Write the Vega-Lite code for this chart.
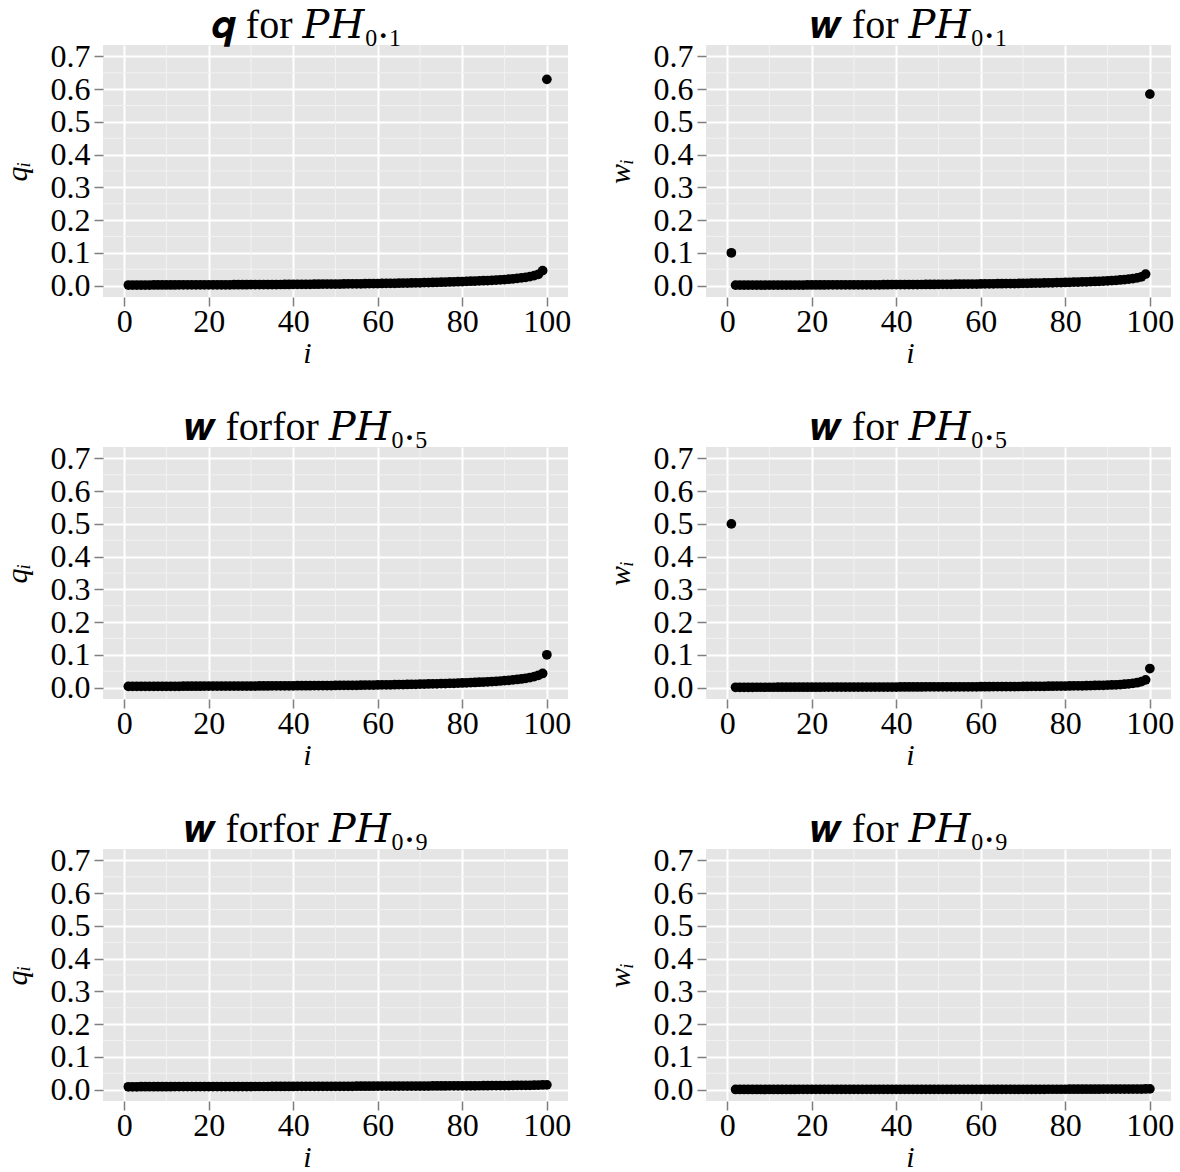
{
  "$schema": "https://vega.github.io/schema/vega-lite/v6.json",
  "background": "white",
  "padding": {"left": 2, "top": 6, "right": 0, "bottom": 0},
  "columns": 2,
  "spacing": {"row": 150, "column": 138},
  "bounds": "flush",
  "concat": [
    {
      "width": 465, "height": 252,
      "title": {"text": "𝒒 for 𝑃𝐻₀.₁"},
      "layer": [
        {"data": {"name": "mx"}, "mark": {"type": "rule", "color": "#F2F2F2", "strokeWidth": 1}, "encoding": {"x": {"field": "i", "type": "quantitative", "scale": {"domain": [-5, 105]}, "axis": {"values": [0, 20, 40, 60, 80, 100], "title": "i"}}}},
        {"data": {"name": "my"}, "mark": {"type": "rule", "color": "#F2F2F2", "strokeWidth": 1}, "encoding": {"y": {"field": "v", "type": "quantitative", "scale": {"domain": [-0.035, 0.735]}, "axis": {"values": [0, 0.1, 0.2, 0.3, 0.4, 0.5, 0.6, 0.7], "format": ".1f", "title": "qᵢ"}}}},
        {"data": {"name": "q01"}, "mark": {"type": "circle", "size": 95, "color": "#000000", "opacity": 1},
         "encoding": {
           "x": {"field": "i", "type": "quantitative", "scale": {"domain": [-5, 105]}, "axis": {"values": [0, 20, 40, 60, 80, 100], "title": "i"}},
           "y": {"field": "v", "type": "quantitative", "scale": {"domain": [-0.035, 0.735]}, "axis": {"values": [0, 0.1, 0.2, 0.3, 0.4, 0.5, 0.6, 0.7], "format": ".1f", "title": "qᵢ"}}}}
      ]
    },
    {
      "width": 465, "height": 252,
      "title": {"text": "𝒘 for 𝑃𝐻₀.₁"},
      "layer": [
        {"data": {"name": "mx"}, "mark": {"type": "rule", "color": "#F2F2F2", "strokeWidth": 1}, "encoding": {"x": {"field": "i", "type": "quantitative", "scale": {"domain": [-5, 105]}, "axis": {"values": [0, 20, 40, 60, 80, 100], "title": "i"}}}},
        {"data": {"name": "my"}, "mark": {"type": "rule", "color": "#F2F2F2", "strokeWidth": 1}, "encoding": {"y": {"field": "v", "type": "quantitative", "scale": {"domain": [-0.035, 0.735]}, "axis": {"values": [0, 0.1, 0.2, 0.3, 0.4, 0.5, 0.6, 0.7], "format": ".1f", "title": "wᵢ"}}}},
        {"data": {"name": "w01"}, "mark": {"type": "circle", "size": 95, "color": "#000000", "opacity": 1},
         "encoding": {
           "x": {"field": "i", "type": "quantitative", "scale": {"domain": [-5, 105]}, "axis": {"values": [0, 20, 40, 60, 80, 100], "title": "i"}},
           "y": {"field": "v", "type": "quantitative", "scale": {"domain": [-0.035, 0.735]}, "axis": {"values": [0, 0.1, 0.2, 0.3, 0.4, 0.5, 0.6, 0.7], "format": ".1f", "title": "wᵢ"}}}}
      ]
    },
    {
      "width": 465, "height": 252,
      "title": {"text": "𝒘 forfor 𝑃𝐻₀.₅"},
      "layer": [
        {"data": {"name": "mx"}, "mark": {"type": "rule", "color": "#F2F2F2", "strokeWidth": 1}, "encoding": {"x": {"field": "i", "type": "quantitative", "scale": {"domain": [-5, 105]}, "axis": {"values": [0, 20, 40, 60, 80, 100], "title": "i"}}}},
        {"data": {"name": "my"}, "mark": {"type": "rule", "color": "#F2F2F2", "strokeWidth": 1}, "encoding": {"y": {"field": "v", "type": "quantitative", "scale": {"domain": [-0.035, 0.735]}, "axis": {"values": [0, 0.1, 0.2, 0.3, 0.4, 0.5, 0.6, 0.7], "format": ".1f", "title": "qᵢ"}}}},
        {"data": {"name": "q05"}, "mark": {"type": "circle", "size": 95, "color": "#000000", "opacity": 1},
         "encoding": {
           "x": {"field": "i", "type": "quantitative", "scale": {"domain": [-5, 105]}, "axis": {"values": [0, 20, 40, 60, 80, 100], "title": "i"}},
           "y": {"field": "v", "type": "quantitative", "scale": {"domain": [-0.035, 0.735]}, "axis": {"values": [0, 0.1, 0.2, 0.3, 0.4, 0.5, 0.6, 0.7], "format": ".1f", "title": "qᵢ"}}}}
      ]
    },
    {
      "width": 465, "height": 252,
      "title": {"text": "𝒘 for 𝑃𝐻₀.₅"},
      "layer": [
        {"data": {"name": "mx"}, "mark": {"type": "rule", "color": "#F2F2F2", "strokeWidth": 1}, "encoding": {"x": {"field": "i", "type": "quantitative", "scale": {"domain": [-5, 105]}, "axis": {"values": [0, 20, 40, 60, 80, 100], "title": "i"}}}},
        {"data": {"name": "my"}, "mark": {"type": "rule", "color": "#F2F2F2", "strokeWidth": 1}, "encoding": {"y": {"field": "v", "type": "quantitative", "scale": {"domain": [-0.035, 0.735]}, "axis": {"values": [0, 0.1, 0.2, 0.3, 0.4, 0.5, 0.6, 0.7], "format": ".1f", "title": "wᵢ"}}}},
        {"data": {"name": "w05"}, "mark": {"type": "circle", "size": 95, "color": "#000000", "opacity": 1},
         "encoding": {
           "x": {"field": "i", "type": "quantitative", "scale": {"domain": [-5, 105]}, "axis": {"values": [0, 20, 40, 60, 80, 100], "title": "i"}},
           "y": {"field": "v", "type": "quantitative", "scale": {"domain": [-0.035, 0.735]}, "axis": {"values": [0, 0.1, 0.2, 0.3, 0.4, 0.5, 0.6, 0.7], "format": ".1f", "title": "wᵢ"}}}}
      ]
    },
    {
      "width": 465, "height": 252,
      "title": {"text": "𝒘 forfor 𝑃𝐻₀.₉"},
      "layer": [
        {"data": {"name": "mx"}, "mark": {"type": "rule", "color": "#F2F2F2", "strokeWidth": 1}, "encoding": {"x": {"field": "i", "type": "quantitative", "scale": {"domain": [-5, 105]}, "axis": {"values": [0, 20, 40, 60, 80, 100], "title": "i"}}}},
        {"data": {"name": "my"}, "mark": {"type": "rule", "color": "#F2F2F2", "strokeWidth": 1}, "encoding": {"y": {"field": "v", "type": "quantitative", "scale": {"domain": [-0.035, 0.735]}, "axis": {"values": [0, 0.1, 0.2, 0.3, 0.4, 0.5, 0.6, 0.7], "format": ".1f", "title": "qᵢ"}}}},
        {"data": {"name": "q09"}, "mark": {"type": "circle", "size": 95, "color": "#000000", "opacity": 1},
         "encoding": {
           "x": {"field": "i", "type": "quantitative", "scale": {"domain": [-5, 105]}, "axis": {"values": [0, 20, 40, 60, 80, 100], "title": "i"}},
           "y": {"field": "v", "type": "quantitative", "scale": {"domain": [-0.035, 0.735]}, "axis": {"values": [0, 0.1, 0.2, 0.3, 0.4, 0.5, 0.6, 0.7], "format": ".1f", "title": "qᵢ"}}}}
      ]
    },
    {
      "width": 465, "height": 252,
      "title": {"text": "𝒘 for 𝑃𝐻₀.₉"},
      "layer": [
        {"data": {"name": "mx"}, "mark": {"type": "rule", "color": "#F2F2F2", "strokeWidth": 1}, "encoding": {"x": {"field": "i", "type": "quantitative", "scale": {"domain": [-5, 105]}, "axis": {"values": [0, 20, 40, 60, 80, 100], "title": "i"}}}},
        {"data": {"name": "my"}, "mark": {"type": "rule", "color": "#F2F2F2", "strokeWidth": 1}, "encoding": {"y": {"field": "v", "type": "quantitative", "scale": {"domain": [-0.035, 0.735]}, "axis": {"values": [0, 0.1, 0.2, 0.3, 0.4, 0.5, 0.6, 0.7], "format": ".1f", "title": "wᵢ"}}}},
        {"data": {"name": "w09"}, "mark": {"type": "circle", "size": 95, "color": "#000000", "opacity": 1},
         "encoding": {
           "x": {"field": "i", "type": "quantitative", "scale": {"domain": [-5, 105]}, "axis": {"values": [0, 20, 40, 60, 80, 100], "title": "i"}},
           "y": {"field": "v", "type": "quantitative", "scale": {"domain": [-0.035, 0.735]}, "axis": {"values": [0, 0.1, 0.2, 0.3, 0.4, 0.5, 0.6, 0.7], "format": ".1f", "title": "wᵢ"}}}}
      ]
    }
  ],
  "datasets": {
    "mx": [{"i": 10}, {"i": 30}, {"i": 50}, {"i": 70}, {"i": 90}],
    "my": [{"v": 0.05}, {"v": 0.15}, {"v": 0.25}, {"v": 0.35}, {"v": 0.45}, {"v": 0.55}, {"v": 0.65}],
    "q01": [
      {"i":1,"v":0.0015},{"i":2,"v":0.0015},{"i":3,"v":0.0015},{"i":4,"v":0.0016},{"i":5,"v":0.0016},{"i":6,"v":0.0016},{"i":7,"v":0.0017},{"i":8,"v":0.0017},{"i":9,"v":0.0017},{"i":10,"v":0.0018},
      {"i":11,"v":0.0018},{"i":12,"v":0.0018},{"i":13,"v":0.0019},{"i":14,"v":0.0019},{"i":15,"v":0.002},{"i":16,"v":0.002},{"i":17,"v":0.002},{"i":18,"v":0.0021},{"i":19,"v":0.0021},{"i":20,"v":0.0022},
      {"i":21,"v":0.0022},{"i":22,"v":0.0023},{"i":23,"v":0.0023},{"i":24,"v":0.0024},{"i":25,"v":0.0024},{"i":26,"v":0.0025},{"i":27,"v":0.0025},{"i":28,"v":0.0026},{"i":29,"v":0.0026},{"i":30,"v":0.0027},
      {"i":31,"v":0.0028},{"i":32,"v":0.0028},{"i":33,"v":0.0029},{"i":34,"v":0.003},{"i":35,"v":0.003},{"i":36,"v":0.0031},{"i":37,"v":0.0032},{"i":38,"v":0.0033},{"i":39,"v":0.0034},{"i":40,"v":0.0035},
      {"i":41,"v":0.0036},{"i":42,"v":0.0037},{"i":43,"v":0.0038},{"i":44,"v":0.0039},{"i":45,"v":0.004},{"i":46,"v":0.0041},{"i":47,"v":0.0042},{"i":48,"v":0.0043},{"i":49,"v":0.0044},{"i":50,"v":0.0046},
      {"i":51,"v":0.0047},{"i":52,"v":0.0048},{"i":53,"v":0.005},{"i":54,"v":0.0051},{"i":55,"v":0.0053},{"i":56,"v":0.0054},{"i":57,"v":0.0056},{"i":58,"v":0.0058},{"i":59,"v":0.006},{"i":60,"v":0.0062},
      {"i":61,"v":0.0064},{"i":62,"v":0.0066},{"i":63,"v":0.0068},{"i":64,"v":0.007},{"i":65,"v":0.0072},{"i":66,"v":0.0074},{"i":67,"v":0.0077},{"i":68,"v":0.0079},{"i":69,"v":0.0082},{"i":70,"v":0.0085},
      {"i":71,"v":0.0088},{"i":72,"v":0.0091},{"i":73,"v":0.0094},{"i":74,"v":0.0097},{"i":75,"v":0.0101},{"i":76,"v":0.0105},{"i":77,"v":0.0109},{"i":78,"v":0.0113},{"i":79,"v":0.0117},{"i":80,"v":0.0122},
      {"i":81,"v":0.0127},{"i":82,"v":0.0132},{"i":83,"v":0.0137},{"i":84,"v":0.0142},{"i":85,"v":0.0148},{"i":86,"v":0.0154},{"i":87,"v":0.016},{"i":88,"v":0.0167},{"i":89,"v":0.0175},{"i":90,"v":0.0184},
      {"i":91,"v":0.0194},{"i":92,"v":0.0205},{"i":93,"v":0.0218},{"i":94,"v":0.0233},{"i":95,"v":0.0251},{"i":96,"v":0.0273},{"i":97,"v":0.0302},{"i":98,"v":0.0345},{"i":99,"v":0.0455},{"i":100,"v":0.63}
    ],
    "w01": [
      {"i":1,"v":0.1},{"i":2,"v":0.0012},{"i":3,"v":0.0012},{"i":4,"v":0.0012},{"i":5,"v":0.0012},{"i":6,"v":0.0013},{"i":7,"v":0.0013},{"i":8,"v":0.0013},{"i":9,"v":0.0013},{"i":10,"v":0.0014},
      {"i":11,"v":0.0014},{"i":12,"v":0.0014},{"i":13,"v":0.0015},{"i":14,"v":0.0015},{"i":15,"v":0.0016},{"i":16,"v":0.0016},{"i":17,"v":0.0016},{"i":18,"v":0.0016},{"i":19,"v":0.0017},{"i":20,"v":0.0017},
      {"i":21,"v":0.0017},{"i":22,"v":0.0018},{"i":23,"v":0.0018},{"i":24,"v":0.0019},{"i":25,"v":0.0019},{"i":26,"v":0.002},{"i":27,"v":0.002},{"i":28,"v":0.002},{"i":29,"v":0.002},{"i":30,"v":0.0021},
      {"i":31,"v":0.0022},{"i":32,"v":0.0022},{"i":33,"v":0.0023},{"i":34,"v":0.0023},{"i":35,"v":0.0023},{"i":36,"v":0.0024},{"i":37,"v":0.0025},{"i":38,"v":0.0026},{"i":39,"v":0.0027},{"i":40,"v":0.0027},
      {"i":41,"v":0.0028},{"i":42,"v":0.0029},{"i":43,"v":0.003},{"i":44,"v":0.003},{"i":45,"v":0.0031},{"i":46,"v":0.0032},{"i":47,"v":0.0033},{"i":48,"v":0.0034},{"i":49,"v":0.0034},{"i":50,"v":0.0036},
      {"i":51,"v":0.0037},{"i":52,"v":0.0037},{"i":53,"v":0.0039},{"i":54,"v":0.004},{"i":55,"v":0.0041},{"i":56,"v":0.0042},{"i":57,"v":0.0044},{"i":58,"v":0.0045},{"i":59,"v":0.0047},{"i":60,"v":0.0048},
      {"i":61,"v":0.005},{"i":62,"v":0.0051},{"i":63,"v":0.0053},{"i":64,"v":0.0055},{"i":65,"v":0.0056},{"i":66,"v":0.0058},{"i":67,"v":0.006},{"i":68,"v":0.0062},{"i":69,"v":0.0064},{"i":70,"v":0.0066},
      {"i":71,"v":0.0069},{"i":72,"v":0.0071},{"i":73,"v":0.0073},{"i":74,"v":0.0076},{"i":75,"v":0.0079},{"i":76,"v":0.0082},{"i":77,"v":0.0085},{"i":78,"v":0.0088},{"i":79,"v":0.0091},{"i":80,"v":0.0095},
      {"i":81,"v":0.0099},{"i":82,"v":0.0103},{"i":83,"v":0.0107},{"i":84,"v":0.0111},{"i":85,"v":0.0115},{"i":86,"v":0.012},{"i":87,"v":0.0125},{"i":88,"v":0.013},{"i":89,"v":0.0136},{"i":90,"v":0.0143},
      {"i":91,"v":0.0151},{"i":92,"v":0.016},{"i":93,"v":0.017},{"i":94,"v":0.0182},{"i":95,"v":0.0196},{"i":96,"v":0.0213},{"i":97,"v":0.0236},{"i":98,"v":0.0268},{"i":99,"v":0.035},{"i":100,"v":0.585}
    ],
    "q05": [
      {"i":1,"v":0.0035},{"i":2,"v":0.0035},{"i":3,"v":0.0036},{"i":4,"v":0.0036},{"i":5,"v":0.0036},{"i":6,"v":0.0037},{"i":7,"v":0.0037},{"i":8,"v":0.0037},{"i":9,"v":0.0038},{"i":10,"v":0.0038},
      {"i":11,"v":0.0038},{"i":12,"v":0.0039},{"i":13,"v":0.0039},{"i":14,"v":0.004},{"i":15,"v":0.004},{"i":16,"v":0.004},{"i":17,"v":0.0041},{"i":18,"v":0.0041},{"i":19,"v":0.0042},{"i":20,"v":0.0042},
      {"i":21,"v":0.0042},{"i":22,"v":0.0043},{"i":23,"v":0.0043},{"i":24,"v":0.0044},{"i":25,"v":0.0044},{"i":26,"v":0.0045},{"i":27,"v":0.0045},{"i":28,"v":0.0046},{"i":29,"v":0.0046},{"i":30,"v":0.0047},
      {"i":31,"v":0.0047},{"i":32,"v":0.0048},{"i":33,"v":0.0049},{"i":34,"v":0.0049},{"i":35,"v":0.005},{"i":36,"v":0.0051},{"i":37,"v":0.0051},{"i":38,"v":0.0052},{"i":39,"v":0.0053},{"i":40,"v":0.0054},
      {"i":41,"v":0.0055},{"i":42,"v":0.0055},{"i":43,"v":0.0056},{"i":44,"v":0.0057},{"i":45,"v":0.0058},{"i":46,"v":0.0059},{"i":47,"v":0.006},{"i":48,"v":0.0061},{"i":49,"v":0.0062},{"i":50,"v":0.0063},
      {"i":51,"v":0.0065},{"i":52,"v":0.0066},{"i":53,"v":0.0067},{"i":54,"v":0.0069},{"i":55,"v":0.007},{"i":56,"v":0.0072},{"i":57,"v":0.0073},{"i":58,"v":0.0075},{"i":59,"v":0.0077},{"i":60,"v":0.0079},
      {"i":61,"v":0.0081},{"i":62,"v":0.0083},{"i":63,"v":0.0085},{"i":64,"v":0.0087},{"i":65,"v":0.0089},{"i":66,"v":0.0092},{"i":67,"v":0.0094},{"i":68,"v":0.0097},{"i":69,"v":0.01},{"i":70,"v":0.0103},
      {"i":71,"v":0.0106},{"i":72,"v":0.0109},{"i":73,"v":0.0112},{"i":74,"v":0.0115},{"i":75,"v":0.0119},{"i":76,"v":0.0123},{"i":77,"v":0.0127},{"i":78,"v":0.0131},{"i":79,"v":0.0135},{"i":80,"v":0.014},
      {"i":81,"v":0.0145},{"i":82,"v":0.015},{"i":83,"v":0.0156},{"i":84,"v":0.0162},{"i":85,"v":0.0168},{"i":86,"v":0.0175},{"i":87,"v":0.0183},{"i":88,"v":0.0191},{"i":89,"v":0.02},{"i":90,"v":0.021},
      {"i":91,"v":0.0221},{"i":92,"v":0.0233},{"i":93,"v":0.0247},{"i":94,"v":0.0263},{"i":95,"v":0.0282},{"i":96,"v":0.0305},{"i":97,"v":0.0335},{"i":98,"v":0.0375},{"i":99,"v":0.043},{"i":100,"v":0.1}
    ],
    "w05": [
      {"i":1,"v":0.5},{"i":2,"v":0.0008},{"i":3,"v":0.0008},{"i":4,"v":0.0008},{"i":5,"v":0.0008},{"i":6,"v":0.0008},{"i":7,"v":0.0009},{"i":8,"v":0.0009},{"i":9,"v":0.0009},{"i":10,"v":0.0009},
      {"i":11,"v":0.0009},{"i":12,"v":0.001},{"i":13,"v":0.001},{"i":14,"v":0.001},{"i":15,"v":0.001},{"i":16,"v":0.001},{"i":17,"v":0.001},{"i":18,"v":0.0011},{"i":19,"v":0.0011},{"i":20,"v":0.0011},
      {"i":21,"v":0.0011},{"i":22,"v":0.0011},{"i":23,"v":0.0012},{"i":24,"v":0.0012},{"i":25,"v":0.0012},{"i":26,"v":0.0012},{"i":27,"v":0.0013},{"i":28,"v":0.0013},{"i":29,"v":0.0013},{"i":30,"v":0.0013},
      {"i":31,"v":0.0014},{"i":32,"v":0.0014},{"i":33,"v":0.0014},{"i":34,"v":0.0014},{"i":35,"v":0.0015},{"i":36,"v":0.0015},{"i":37,"v":0.0015},{"i":38,"v":0.0016},{"i":39,"v":0.0016},{"i":40,"v":0.0016},
      {"i":41,"v":0.0017},{"i":42,"v":0.0017},{"i":43,"v":0.0017},{"i":44,"v":0.0018},{"i":45,"v":0.0018},{"i":46,"v":0.0018},{"i":47,"v":0.0019},{"i":48,"v":0.0019},{"i":49,"v":0.002},{"i":50,"v":0.002},
      {"i":51,"v":0.002},{"i":52,"v":0.0021},{"i":53,"v":0.0021},{"i":54,"v":0.0022},{"i":55,"v":0.0022},{"i":56,"v":0.0023},{"i":57,"v":0.0023},{"i":58,"v":0.0024},{"i":59,"v":0.0024},{"i":60,"v":0.0025},
      {"i":61,"v":0.0026},{"i":62,"v":0.0026},{"i":63,"v":0.0027},{"i":64,"v":0.0028},{"i":65,"v":0.0028},{"i":66,"v":0.0029},{"i":67,"v":0.003},{"i":68,"v":0.0031},{"i":69,"v":0.0032},{"i":70,"v":0.0033},
      {"i":71,"v":0.0034},{"i":72,"v":0.0035},{"i":73,"v":0.0036},{"i":74,"v":0.0037},{"i":75,"v":0.0038},{"i":76,"v":0.004},{"i":77,"v":0.0041},{"i":78,"v":0.0043},{"i":79,"v":0.0044},{"i":80,"v":0.0046},
      {"i":81,"v":0.0048},{"i":82,"v":0.005},{"i":83,"v":0.0052},{"i":84,"v":0.0054},{"i":85,"v":0.0057},{"i":86,"v":0.006},{"i":87,"v":0.0063},{"i":88,"v":0.0066},{"i":89,"v":0.007},{"i":90,"v":0.0074},
      {"i":91,"v":0.0079},{"i":92,"v":0.0085},{"i":93,"v":0.0092},{"i":94,"v":0.0101},{"i":95,"v":0.0112},{"i":96,"v":0.0127},{"i":97,"v":0.0148},{"i":98,"v":0.018},{"i":99,"v":0.0235},{"i":100,"v":0.058}
    ],
    "q09": [
      {"i":1,"v":0.0085},{"i":2,"v":0.0085},{"i":3,"v":0.0085},{"i":4,"v":0.0086},{"i":5,"v":0.0086},{"i":6,"v":0.0086},{"i":7,"v":0.0086},{"i":8,"v":0.0087},{"i":9,"v":0.0087},{"i":10,"v":0.0087},
      {"i":11,"v":0.0087},{"i":12,"v":0.0088},{"i":13,"v":0.0088},{"i":14,"v":0.0088},{"i":15,"v":0.0088},{"i":16,"v":0.0089},{"i":17,"v":0.0089},{"i":18,"v":0.0089},{"i":19,"v":0.0089},{"i":20,"v":0.009},
      {"i":21,"v":0.009},{"i":22,"v":0.009},{"i":23,"v":0.009},{"i":24,"v":0.0091},{"i":25,"v":0.0091},{"i":26,"v":0.0091},{"i":27,"v":0.0091},{"i":28,"v":0.0092},{"i":29,"v":0.0092},{"i":30,"v":0.0092},
      {"i":31,"v":0.0093},{"i":32,"v":0.0093},{"i":33,"v":0.0093},{"i":34,"v":0.0093},{"i":35,"v":0.0094},{"i":36,"v":0.0094},{"i":37,"v":0.0094},{"i":38,"v":0.0095},{"i":39,"v":0.0095},{"i":40,"v":0.0095},
      {"i":41,"v":0.0096},{"i":42,"v":0.0096},{"i":43,"v":0.0096},{"i":44,"v":0.0097},{"i":45,"v":0.0097},{"i":46,"v":0.0097},{"i":47,"v":0.0098},{"i":48,"v":0.0098},{"i":49,"v":0.0098},{"i":50,"v":0.0099},
      {"i":51,"v":0.0099},{"i":52,"v":0.0099},{"i":53,"v":0.01},{"i":54,"v":0.01},{"i":55,"v":0.0101},{"i":56,"v":0.0101},{"i":57,"v":0.0101},{"i":58,"v":0.0102},{"i":59,"v":0.0102},{"i":60,"v":0.0103},
      {"i":61,"v":0.0103},{"i":62,"v":0.0103},{"i":63,"v":0.0104},{"i":64,"v":0.0104},{"i":65,"v":0.0105},{"i":66,"v":0.0105},{"i":67,"v":0.0106},{"i":68,"v":0.0106},{"i":69,"v":0.0107},{"i":70,"v":0.0107},
      {"i":71,"v":0.0108},{"i":72,"v":0.0108},{"i":73,"v":0.0109},{"i":74,"v":0.0109},{"i":75,"v":0.011},{"i":76,"v":0.011},{"i":77,"v":0.0111},{"i":78,"v":0.0112},{"i":79,"v":0.0112},{"i":80,"v":0.0113},
      {"i":81,"v":0.0114},{"i":82,"v":0.0114},{"i":83,"v":0.0115},{"i":84,"v":0.0116},{"i":85,"v":0.0117},{"i":86,"v":0.0118},{"i":87,"v":0.0119},{"i":88,"v":0.012},{"i":89,"v":0.0121},{"i":90,"v":0.0122},
      {"i":91,"v":0.0123},{"i":92,"v":0.0124},{"i":93,"v":0.0126},{"i":94,"v":0.0127},{"i":95,"v":0.0129},{"i":96,"v":0.0131},{"i":97,"v":0.0133},{"i":98,"v":0.0136},{"i":99,"v":0.0139},{"i":100,"v":0.0143}
    ],
    "w09": [
      {"i":2,"v":0.0003},{"i":3,"v":0.0003},{"i":4,"v":0.0003},{"i":5,"v":0.0003},{"i":6,"v":0.0003},{"i":7,"v":0.0003},{"i":8,"v":0.0003},{"i":9,"v":0.0003},{"i":10,"v":0.0003},
      {"i":11,"v":0.0003},{"i":12,"v":0.0003},{"i":13,"v":0.0003},{"i":14,"v":0.0003},{"i":15,"v":0.0003},{"i":16,"v":0.0003},{"i":17,"v":0.0004},{"i":18,"v":0.0004},{"i":19,"v":0.0004},{"i":20,"v":0.0004},
      {"i":21,"v":0.0004},{"i":22,"v":0.0004},{"i":23,"v":0.0004},{"i":24,"v":0.0004},{"i":25,"v":0.0004},{"i":26,"v":0.0004},{"i":27,"v":0.0004},{"i":28,"v":0.0004},{"i":29,"v":0.0004},{"i":30,"v":0.0004},
      {"i":31,"v":0.0004},{"i":32,"v":0.0004},{"i":33,"v":0.0004},{"i":34,"v":0.0004},{"i":35,"v":0.0004},{"i":36,"v":0.0004},{"i":37,"v":0.0005},{"i":38,"v":0.0005},{"i":39,"v":0.0005},{"i":40,"v":0.0005},
      {"i":41,"v":0.0005},{"i":42,"v":0.0005},{"i":43,"v":0.0005},{"i":44,"v":0.0005},{"i":45,"v":0.0005},{"i":46,"v":0.0005},{"i":47,"v":0.0005},{"i":48,"v":0.0005},{"i":49,"v":0.0005},{"i":50,"v":0.0005},
      {"i":51,"v":0.0005},{"i":52,"v":0.0005},{"i":53,"v":0.0005},{"i":54,"v":0.0006},{"i":55,"v":0.0006},{"i":56,"v":0.0006},{"i":57,"v":0.0006},{"i":58,"v":0.0006},{"i":59,"v":0.0006},{"i":60,"v":0.0006},
      {"i":61,"v":0.0006},{"i":62,"v":0.0006},{"i":63,"v":0.0007},{"i":64,"v":0.0007},{"i":65,"v":0.0007},{"i":66,"v":0.0007},{"i":67,"v":0.0007},{"i":68,"v":0.0007},{"i":69,"v":0.0007},{"i":70,"v":0.0008},
      {"i":71,"v":0.0008},{"i":72,"v":0.0008},{"i":73,"v":0.0008},{"i":74,"v":0.0008},{"i":75,"v":0.0008},{"i":76,"v":0.0009},{"i":77,"v":0.0009},{"i":78,"v":0.0009},{"i":79,"v":0.0009},{"i":80,"v":0.0009},
      {"i":81,"v":0.001},{"i":82,"v":0.001},{"i":83,"v":0.001},{"i":84,"v":0.001},{"i":85,"v":0.0011},{"i":86,"v":0.0011},{"i":87,"v":0.0011},{"i":88,"v":0.0011},{"i":89,"v":0.0012},{"i":90,"v":0.0012},
      {"i":91,"v":0.0012},{"i":92,"v":0.0013},{"i":93,"v":0.0013},{"i":94,"v":0.0013},{"i":95,"v":0.0014},{"i":96,"v":0.0014},{"i":97,"v":0.0015},{"i":98,"v":0.0016},{"i":99,"v":0.0017},{"i":100,"v":0.0019}
    ]
  },
  "config": {
    "font": "Liberation Serif, DejaVu Serif",
    "view": {"fill": "#E5E5E5", "stroke": null},
    "axis": {
      "domain": false,
      "tickColor": "#7F7F7F",
      "tickSize": 9,
      "tickWidth": 1.5,
      "gridColor": "#FFFFFF",
      "gridWidth": 2,
      "labelFont": "Liberation Serif",
      "labelFontSize": 32,
      "labelColor": "#000000",
      "labelOverlap": false,
      "labelFlush": false,
      "titleFont": "Liberation Serif, DejaVu Serif",
      "titleFontSize": 30,
      "titleFontStyle": "italic",
      "titleFontWeight": "normal",
      "titleColor": "#000000"
    },
    "axisX": {"titlePadding": 1, "labelPadding": 0, "titleX": 204},
    "axisY": {"titlePadding": 18, "labelPadding": 4},
    "title": {"font": "Liberation Serif, DejaVu Serif", "fontSize": 40, "fontWeight": "normal", "color": "#000000", "offset": -6, "baseline": "alphabetic", "frame": "group", "anchor": "middle", "dx": -29}
  }
}
